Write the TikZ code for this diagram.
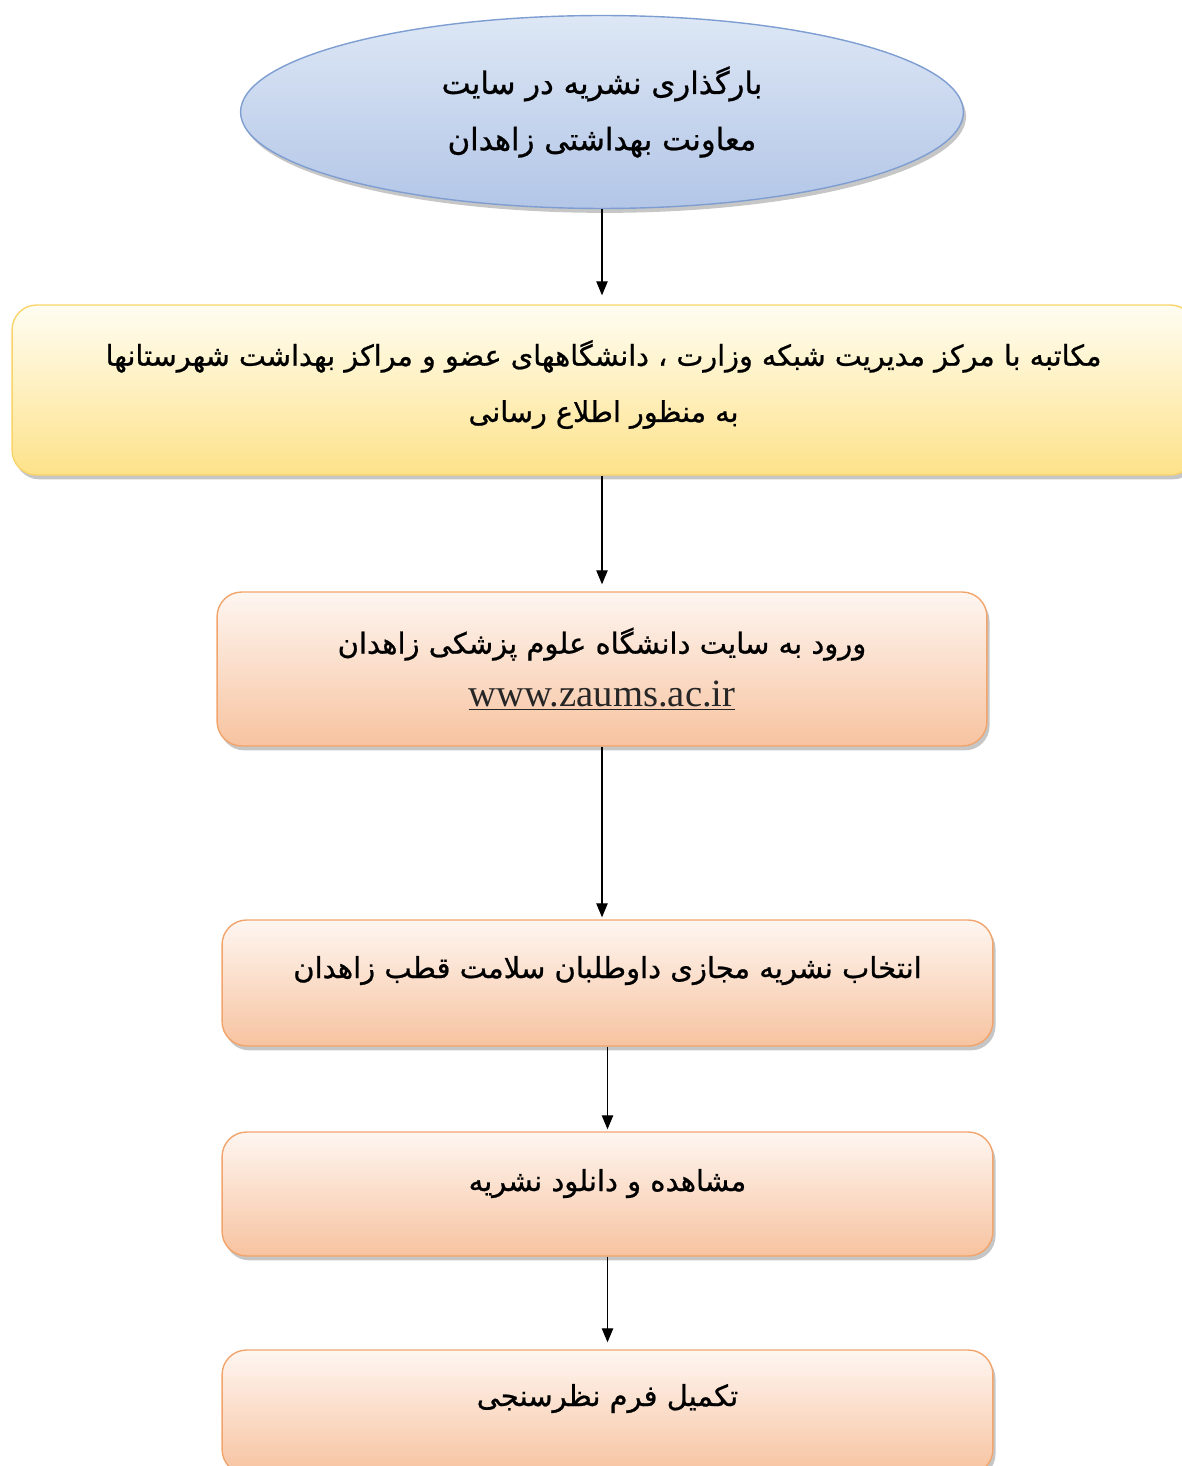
\documentclass[tikz,border=0pt]{standalone}
\usepackage{fontspec}
\setmainfont{Liberation Serif}
\newfontfamily\farsifont[Script=Arabic, FakeBold=0.8]{DejaVu Sans}
\TeXXeTstate=1
\usetikzlibrary{arrows.meta, shapes.geometric, shadows, positioning}
\definecolor{ovaltop}{HTML}{DDE7F5}
\definecolor{ovalbot}{HTML}{B3C6E7}
\definecolor{ovalline}{HTML}{7E9ED2}
\definecolor{yeltop}{HTML}{FFFDF2}
\definecolor{yelbot}{HTML}{FDE28A}
\definecolor{yelline}{HTML}{F9D46A}
\definecolor{orgtop}{HTML}{FEF6F1}
\definecolor{orgbot}{HTML}{F7C3A0}
\definecolor{orgline}{HTML}{F1A46C}
\definecolor{urltext}{HTML}{262626}
\newcommand{\rtl}[1]{{\farsifont\beginR #1\endR}}

\begin{document}
\begin{tikzpicture}[
      x=0.02cm, y=-0.02cm,
      oval/.style={ellipse, draw=ovalline, thick, top color=ovaltop, bottom color=ovalbot,
                   minimum width=14.46cm, minimum height=3.86cm, inner sep=0pt,
                   font=\fontsize{17.5}{32}\selectfont, align=center,
                   drop shadow={shadow xshift=1.5pt, shadow yshift=-2.5pt, opacity=0.45}},
      ybox/.style={draw=yelline, thick, rounded corners=14pt, top color=yeltop, bottom color=yelbot,
                   minimum width=23.66cm, minimum height=3.4cm, inner sep=0pt,
                   font=\fontsize{16.3}{32}\selectfont, align=center,
                   drop shadow={shadow xshift=1.5pt, shadow yshift=-2.5pt, opacity=0.45}},
      obox/.style={draw=orgline, thick, rounded corners=14pt, top color=orgtop, bottom color=orgbot,
                   minimum width=15.42cm, inner sep=0pt,
                   font=\fontsize{16.5}{30}\selectfont, align=center,
                   drop shadow={shadow xshift=1.5pt, shadow yshift=-2.5pt, opacity=0.45}},
      arr/.style={-{Triangle[length=8pt, width=6.5pt]}, black, line width=0.7pt}
    ]
    \useasboundingbox (0,0) rectangle (1182,1466);
    \node[oval] (upload) at (602,112) {\rtl{بارگذاری نشریه در سایت}\\\rtl{معاونت بهداشتی زاهدان}};
    \node[ybox, text depth=0.36cm] (letter) at (603.5,390)
      {\rtl{مکاتبه با مرکز مدیریت شبکه وزارت ، دانشگاههای عضو و مراکز بهداشت شهرستانها}\\\rtl{به منظور اطلاع رسانی}};
    \node[obox, minimum width=15.4cm, minimum height=3.08cm] (site) at (602,669)
      {\rtl{ورود به سایت دانشگاه علوم پزشکی  زاهدان}\\\textcolor{urltext}{\underline{\fontsize{22}{22}\selectfont www.zaums.ac.ir}}};
    \node[obox, minimum height=2.52cm, text depth=0.64cm] (choose) at (607.5,983)
      {\rtl{انتخاب نشریه مجازی داوطلبان سلامت قطب زاهدان}};
    \node[obox, minimum height=2.48cm, text depth=0.56cm] (view) at (607.5,1194)
      {\rtl{مشاهده و دانلود نشریه}};
    \node[obox, minimum height=2.48cm, text depth=0.68cm] (survey) at (607.5,1412)
      {\rtl{تکمیل فرم  نظرسنجی}};
    \draw[arr] (upload.south) -- ([yshift=0.18cm]letter.north -| upload.south);
    \draw[arr] (letter.south -| site.north) -- ([yshift=0.14cm]site.north);
    \draw[arr] (site.south) -- ([yshift=0.04cm]site.south |- choose.north);
    \draw[arr] (choose.south) -- ([yshift=0.04cm]view.north);
    \draw[arr] (view.south) -- ([yshift=0.14cm]survey.north);
  \end{tikzpicture}
\end{document}
